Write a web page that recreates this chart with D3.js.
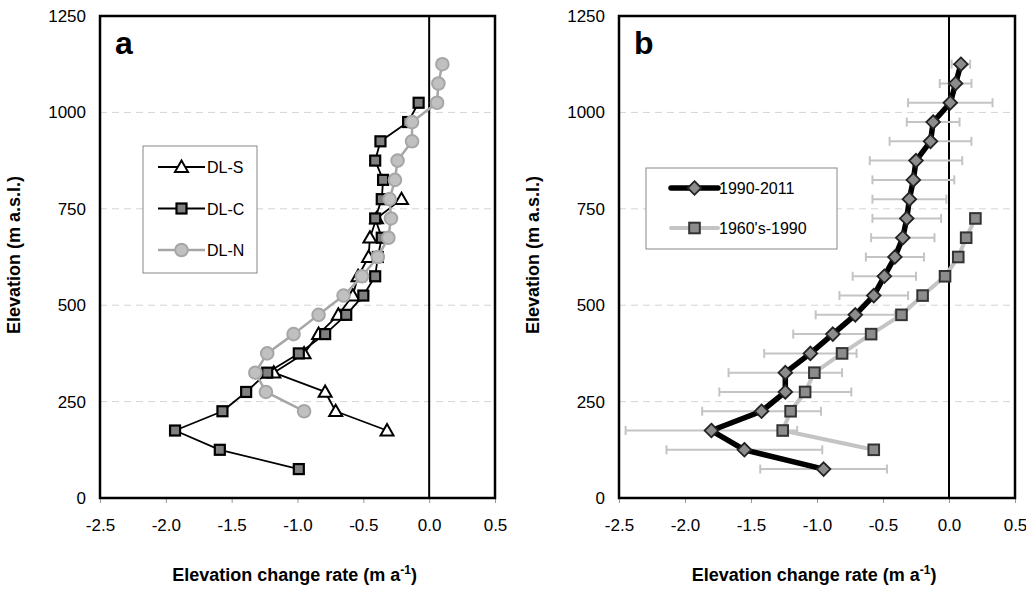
<!DOCTYPE html>
<html lang="en">
<head>
<meta charset="UTF-8">
<title>Elevation change profiles</title>
<script src="https://d3js.org/d3.v7.min.js"></script>
<style>
    body { margin: 0; background: #fff; }
    svg text { font-family: 'Liberation Sans', Arial, sans-serif; fill: #000; }
</style>
</head>
<body>
<div id="chart"></div>
<script>
// ---- data ----
const xTicks = [-2.5, -2.0, -1.5, -1.0, -0.5, 0.0, 0.5];
const yTicks = [0, 250, 500, 750, 1000, 1250];

// panel a
const dlsElev = [175, 225, 275, 325, 375, 425, 475, 525, 575, 625, 675, 725, 775];
const dlsRate = [-0.32, -0.71, -0.79, -1.18, -0.95, -0.84, -0.69, -0.58, -0.54, -0.46, -0.45, -0.40, -0.21];

const dlcElev = [75, 125, 175, 225, 275, 325, 375, 425, 475, 525, 575, 625, 675, 725, 775, 825, 875, 925, 975, 1025];
const dlcRate = [-0.99, -1.59, -1.93, -1.57, -1.39, -1.23, -0.99, -0.79, -0.63, -0.50, -0.41, -0.39, -0.36, -0.41, -0.36, -0.35, -0.41, -0.37, -0.16, -0.08];

const dlnElev = [225, 275, 325, 375, 425, 475, 525, 575, 625, 675, 725, 775, 825, 875, 925, 975, 1025, 1075, 1125];
const dlnRate = [-0.95, -1.24, -1.32, -1.23, -1.03, -0.84, -0.65, -0.51, -0.39, -0.31, -0.29, -0.30, -0.26, -0.24, -0.13, -0.13, 0.06, 0.07, 0.10];

// panel b
const recentElev = [75, 125, 175, 225, 275, 325, 375, 425, 475, 525, 575, 625, 675, 725, 775, 825, 875, 925, 975, 1025, 1075, 1125];
const recentRate = [-0.95, -1.55, -1.80, -1.42, -1.24, -1.24, -1.05, -0.88, -0.71, -0.57, -0.49, -0.41, -0.35, -0.32, -0.30, -0.27, -0.25, -0.14, -0.12, 0.01, 0.05, 0.09];
const recentErr = [0.48, 0.59, 0.65, 0.45, 0.50, 0.43, 0.35, 0.30, 0.30, 0.26, 0.24, 0.22, 0.24, 0.26, 0.28, 0.31, 0.35, 0.31, 0.20, 0.32, 0.12, 0.07];

const olderElev = [125, 175, 225, 275, 325, 375, 425, 475, 525, 575, 625, 675, 725];
const olderRate = [-0.57, -1.26, -1.20, -1.09, -1.02, -0.81, -0.59, -0.36, -0.20, -0.03, 0.07, 0.13, 0.20];

const zip = (ys, xs) => ys.map((y, i) => ({ x: xs[i], y: y }));

const W = 1026, H = 589;
const svg = d3.select('#chart').append('svg')
    .attr('width', W).attr('height', H);

// marker shapes
function drawMarkers(g, pts, sx, sy, type, style) {
    const sel = g.selectAll(null).data(pts).enter();
    if (type === 'circle') {
        sel.append('circle')
            .attr('cx', d => sx(d.x)).attr('cy', d => sy(d.y)).attr('r', style.size)
            .attr('fill', style.fill).attr('stroke', style.stroke).attr('stroke-width', style.sw);
    } else if (type === 'square') {
        sel.append('rect')
            .attr('x', d => sx(d.x) - style.size).attr('y', d => sy(d.y) - style.size)
            .attr('width', style.size * 2).attr('height', style.size * 2)
            .attr('fill', style.fill).attr('stroke', style.stroke).attr('stroke-width', style.sw);
    } else if (type === 'triangle') {
        const s = style.size;
        sel.append('path')
            .attr('d', d => {
                const cx = sx(d.x), cy = sy(d.y);
                return `M${cx},${cy - s}L${cx + s},${cy + s * 0.75}L${cx - s},${cy + s * 0.75}Z`;
            })
            .attr('fill', style.fill).attr('stroke', style.stroke).attr('stroke-width', style.sw)
            .attr('stroke-linejoin', 'miter');
    } else if (type === 'diamond') {
        const s = style.size;
        sel.append('path')
            .attr('d', d => {
                const cx = sx(d.x), cy = sy(d.y);
                return `M${cx},${cy - s}L${cx + s},${cy}L${cx},${cy + s}L${cx - s},${cy}Z`;
            })
            .attr('fill', style.fill).attr('stroke', style.stroke).attr('stroke-width', style.sw);
    }
}

function drawSeries(g, pts, sx, sy, s) {
    const line = d3.line().x(d => sx(d.x)).y(d => sy(d.y));
    g.append('path').datum(pts)
        .attr('d', line)
        .attr('fill', 'none')
        .attr('stroke', s.lineColor)
        .attr('stroke-width', s.lineWidth)
        .attr('stroke-linejoin', 'round');
    drawMarkers(g, pts, sx, sy, s.marker, s.markerStyle);
}

function drawPanel(opts) {
    const { left, right, top, bottom } = opts;
    const sx = d3.scaleLinear().domain([-2.5, 0.5]).range([left, right]);
    const sy = d3.scaleLinear().domain([0, 1250]).range([bottom, top]);
    const g = svg.append('g');

    // dashed gridlines
    g.selectAll(null).data(yTicks.filter(t => t > 0 && t < 1250)).enter()
        .append('line')
        .attr('x1', left).attr('x2', right)
        .attr('y1', d => sy(d)).attr('y2', d => sy(d))
        .attr('stroke', '#d4d4d4').attr('stroke-width', 1)
        .attr('stroke-dasharray', '7,5');

    // x axis ticks and labels
    const xAxis = d3.axisBottom(sx).tickValues(xTicks).tickSize(5)
        .tickFormat(d => d3.format('.1f')(d).replace('−', '-'));
    const xa = g.append('g').attr('transform', `translate(0,${bottom})`).call(xAxis);
    xa.select('.domain').remove();
    xa.selectAll('.tick line').attr('stroke', '#999');
    xa.selectAll('.tick text')
        .attr('font-size', 17).attr('dy', 0).attr('y', 33)
        .attr('font-family', "'Liberation Sans', Arial, sans-serif");

    // y axis labels
    const yAxis = d3.axisLeft(sy).tickValues(yTicks).tickSize(0).tickPadding(14)
        .tickFormat(d3.format('d'));
    const ya = g.append('g').attr('transform', `translate(${left},0)`).call(yAxis);
    ya.select('.domain').remove();
    ya.selectAll('.tick text').attr('font-size', 17)
        .attr('font-family', "'Liberation Sans', Arial, sans-serif");

    // zero line
    g.append('line')
        .attr('x1', sx(0)).attr('x2', sx(0)).attr('y1', top).attr('y2', bottom)
        .attr('stroke', '#000').attr('stroke-width', 2);

    opts.draw(g, sx, sy);

    // frame
    g.append('rect')
        .attr('x', left).attr('y', top).attr('width', right - left).attr('height', bottom - top)
        .attr('fill', 'none').attr('stroke', '#000').attr('stroke-width', 2.5);

    // panel letter
    g.append('text').attr('x', left + 15).attr('y', top + 38)
        .attr('font-size', 32).attr('font-weight', 'bold').text(opts.letter);

    // axis titles
    const xt = g.append('text')
        .attr('x', (left + right) / 2 - 3).attr('y', 581)
        .attr('text-anchor', 'middle').attr('font-size', 18).attr('font-weight', 'bold');
    xt.append('tspan').text('Elevation change rate (m a');
    xt.append('tspan').attr('dy', -7).attr('font-size', 12).text('-1');
    xt.append('tspan').attr('dy', 7).text(')');

    g.append('text')
        .attr('transform', `translate(${left - 80},${(top + bottom) / 2 - 2}) rotate(-90)`)
        .attr('text-anchor', 'middle').attr('font-size', 18).attr('font-weight', 'bold')
        .text('Elevation (m a.s.l.)');

    // legend
    const lg = g.append('g');
    const L = opts.legend;
    lg.append('rect').attr('x', L.x).attr('y', L.y).attr('width', L.w).attr('height', L.h)
        .attr('fill', '#fff').attr('stroke', '#888').attr('stroke-width', 1);
    L.items.forEach((it, i) => {
        const cy = L.y + L.first + i * L.step;
        lg.append('line').attr('x1', L.x + L.lx1).attr('x2', L.x + L.lx2)
            .attr('y1', cy).attr('y2', cy)
            .attr('stroke', it.s.lineColor).attr('stroke-width', it.s.lineWidth)
            .attr('stroke-linecap', it.cap || 'butt');
        const mid = (L.lx1 + L.lx2) / 2 + L.x;
        drawMarkers(lg, [{ x: 0, y: 0 }], () => mid, () => cy, it.s.marker, it.s.markerStyle);
        lg.append('text').attr('x', L.x + L.tx).attr('y', cy + 6)
            .attr('font-size', 16).text(it.label);
    });
}

// series styles
const styleS = { lineColor: '#000', lineWidth: 1.8, marker: 'triangle',
    markerStyle: { size: 6.5, fill: '#fff', stroke: '#000', sw: 2 } };
const styleC = { lineColor: '#000', lineWidth: 1.8, marker: 'square',
    markerStyle: { size: 5, fill: '#808080', stroke: '#000', sw: 2.2 } };
const styleN = { lineColor: '#a6a6a6', lineWidth: 2.5, marker: 'circle',
    markerStyle: { size: 6.3, fill: '#c0c0c0', stroke: '#a6a6a6', sw: 2 } };
const styleRecent = { lineColor: '#000', lineWidth: 5.5, marker: 'diamond',
    markerStyle: { size: 6.8, fill: '#8c8c8c', stroke: '#222', sw: 1.8 } };
const styleOlder = { lineColor: '#c4c4c4', lineWidth: 4, marker: 'square',
    markerStyle: { size: 5.3, fill: '#8c8c8c', stroke: '#333', sw: 2 } };

drawPanel({
    left: 100, right: 495, top: 16, bottom: 498, letter: 'a',
    draw: (g, sx, sy) => {
        drawSeries(g, zip(dlsElev, dlsRate), sx, sy, styleS);
        drawSeries(g, zip(dlcElev, dlcRate), sx, sy, styleC);
        drawSeries(g, zip(dlnElev, dlnRate), sx, sy, styleN);
    },
    legend: { x: 143, y: 146, w: 114, h: 127, first: 21, step: 41.5,
        lx1: 15, lx2: 62, tx: 64,
        items: [
            { label: 'DL-S', s: styleS },
            { label: 'DL-C', s: styleC },
            { label: 'DL-N', s: styleN }
        ] }
});

drawPanel({
    left: 619, right: 1015, top: 16, bottom: 498, letter: 'b',
    draw: (g, sx, sy) => {
        // error bars for 1990-2011
        const eb = zip(recentElev, recentRate).map((d, i) => ({ ...d, e: recentErr[i] }));
        const cap = 4.5;
        const ebg = g.append('g').attr('stroke', '#c4c4c4').attr('stroke-width', 2);
        ebg.selectAll(null).data(eb).enter().append('line')
            .attr('x1', d => sx(d.x - d.e)).attr('x2', d => sx(d.x + d.e))
            .attr('y1', d => sy(d.y)).attr('y2', d => sy(d.y));
        ebg.selectAll(null).data(eb).enter().append('line')
            .attr('x1', d => sx(d.x - d.e)).attr('x2', d => sx(d.x - d.e))
            .attr('y1', d => sy(d.y) - cap).attr('y2', d => sy(d.y) + cap);
        ebg.selectAll(null).data(eb).enter().append('line')
            .attr('x1', d => sx(d.x + d.e)).attr('x2', d => sx(d.x + d.e))
            .attr('y1', d => sy(d.y) - cap).attr('y2', d => sy(d.y) + cap);

        drawSeries(g, zip(olderElev, olderRate), sx, sy, styleOlder);
        drawSeries(g, zip(recentElev, recentRate), sx, sy, styleRecent);
    },
    legend: { x: 646, y: 168, w: 191, h: 81, first: 20, step: 40,
        lx1: 25, lx2: 72, tx: 73,
        items: [
            { label: '1990-2011', s: styleRecent, cap: 'round' },
            { label: "1960's-1990", s: styleOlder, cap: 'round' }
        ] }
});
</script>
</body>
</html>
